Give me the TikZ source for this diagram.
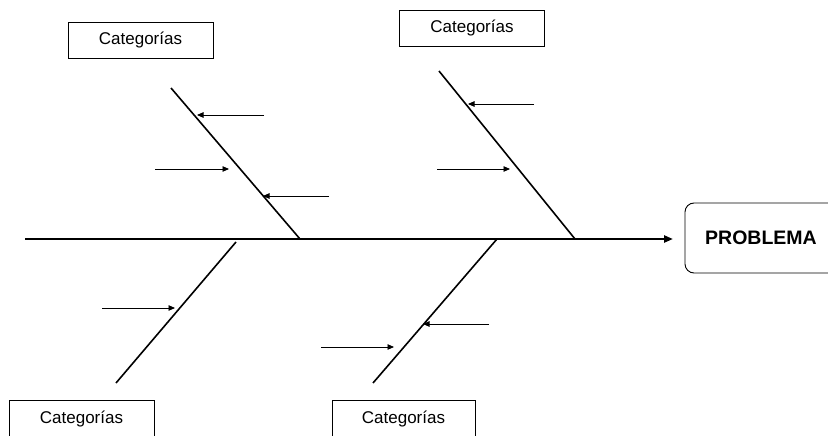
\documentclass[tikz,border=0pt]{standalone}
\usepackage{fontspec}
\setmainfont{Liberation Sans}
\usetikzlibrary{arrows.meta}
\begin{document}
\begin{tikzpicture}[x=1pt,y=-1pt,
  catbox/.style={draw, line width=0.9pt, minimum width=145pt, minimum height=36pt, inner sep=0pt, font=\fontsize{17}{20}\selectfont},
  probbox/.style={draw, line width=0.9pt, rounded corners=9pt, minimum width=152pt, minimum height=70pt, inner sep=0pt, font=\fontsize{19.5}{22}\selectfont\bfseries},
  spine/.style={line width=2.8pt, -{Triangle[length=9pt,width=7pt]}},
  bone/.style={line width=1.6pt},
  cause/.style={line width=0.9pt, -{Triangle[length=6.5pt,width=5.5pt]}}]
\useasboundingbox (0,0) rectangle (828,436);
\clip (0,0) rectangle (828,436);
% category boxes
\node[catbox] (c1) at (140.5,40) {Categorías};
\node[catbox] (c2) at (472,28) {Categorías};
\node[catbox, minimum height=40pt, text height=13pt, text depth=7pt] (c3) at (81.5,420) {Categorías};
\node[catbox, minimum width=143pt, minimum height=40pt, text height=13pt, text depth=7pt] (c4) at (403.5,420) {Categorías};
% problem box
\node[probbox] (p) at (761,238) {PROBLEMA};
% spine
\coordinate (s0) at (25,239);
\coordinate (s1) at (673,239);
\draw[spine] (s0) -- (s1);
% bones
\coordinate (b1t) at (171,88);   \coordinate (b1b) at (300,239);
\coordinate (b2t) at (439,71);   \coordinate (b2b) at (575,239);
\coordinate (b3t) at (236,242);  \coordinate (b3b) at (116,383);
\coordinate (b4t) at (497,239);  \coordinate (b4b) at (373,383);
\draw[bone] (b1t) -- (b1b);
\draw[bone] (b2t) -- (b2b);
\draw[bone] (b3t) -- (b3b);
\draw[bone] (b4t) -- (b4b);
% causes
\coordinate (a1s) at (264,115); \coordinate (a1e) at (197,115);
\coordinate (a2s) at (155,169); \coordinate (a2e) at (229,169);
\coordinate (a3s) at (329,196); \coordinate (a3e) at (263,196);
\coordinate (a4s) at (534,104); \coordinate (a4e) at (468,104);
\coordinate (a5s) at (437,169); \coordinate (a5e) at (510,169);
\coordinate (a6s) at (102,308); \coordinate (a6e) at (175,308);
\coordinate (a7s) at (489,324); \coordinate (a7e) at (423,324);
\coordinate (a8s) at (321,347); \coordinate (a8e) at (394,347);
\foreach \i in {1,...,8} \draw[cause] (a\i s) -- (a\i e);
\end{tikzpicture}
\end{document}
